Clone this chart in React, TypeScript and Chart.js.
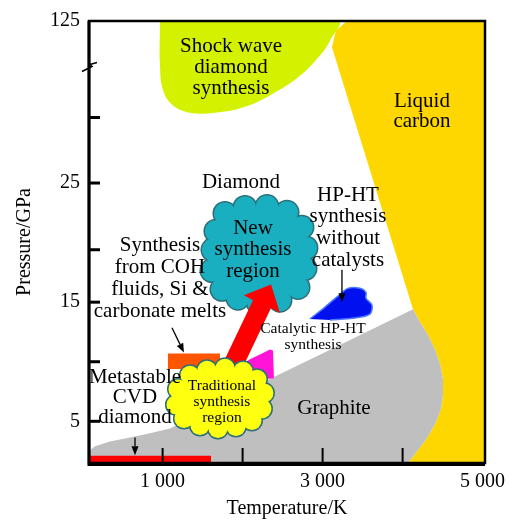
import { useEffect, useRef } from "react";
import { Chart, registerables } from "chart.js";

Chart.register(...registerables);

type P = [number, number];

// Axes: Temperature/K (x) and Pressure/GPa (y, broken near the top)
const xRange: P = [80, 5030];
const yRange: P = [1.5, 38.6];
const xTickValues = [1000, 2000, 3000, 4000, 5000];
const xTickLabels = ["1 000", "", "3 000", "", "5 000"];
const yTickValues = [5, 10, 15, 19.4, 25, 30.5, 38.6];
const yTickLabels = ["5", "", "15", "", "25", "", "125"];
const yAxisBreak = 34.7;

// Regions (T in K, P in GPa)
const shockWaveRegion: P[] = [
  [967, 38.6], [3192, 38.6], [3092, 36.95], [2967, 35.7], [2717, 34.0], [2405, 32.6],
  [2030, 31.4], [1655, 30.9], [1342, 30.9], [1117, 31.6], [1005, 32.8], [967, 34.9], [967, 38.6],
];
const graphiteDiamondBoundary: P[] = [
  [80, 1.5], [80, 2.5], [155, 2.9], [342, 3.3], [592, 3.65], [842, 4.0], [1092, 4.4],
  [2030, 7.55], [3030, 10.8],
];
const graphiteLiquidBoundary: P[] = [
  [4130, 14.4], [4217, 13.34], [4317, 12.27], [4405, 11.02], [4467, 9.86], [4505, 8.54],
  [4505, 7.3], [4480, 6.06], [4417, 4.9], [4305, 3.57], [4192, 2.58], [4067, 1.5],
];
const liquidDiamondBoundary: P[] = [[3117, 36.4], [3167, 37.8], [3305, 38.6]];
const liquidOuter: P[] = [[5030, 38.6], [5030, 1.5]];
const cvdRegion: P[] = [[80, 1.5], [1605, 1.5], [1605, 2.1], [80, 2.1]];
const cohMeltRegion: P[] = [[1067, 9.4], [1717, 9.4], [1717, 10.7], [1067, 10.7]];
const catalyticRegion: P[] = [
  [1967, 9.62], [2092, 10.2], [2242, 10.69], [2342, 11.02], [2380, 10.94], [2392, 8.62], [1967, 8.37],
];
const noCatalystRegion: P[] = [
  [2842, 13.59], [3030, 14.59], [3217, 15.66], [3317, 16.16], [3467, 16.16], [3542, 15.83],
  [3542, 15.33], [3617, 14.75], [3592, 14.0], [3405, 13.67], [3092, 13.51],
];
const newSynthesisCloud: P[] = [
  [1780, 22.45], [2030, 22.95], [2305, 23.03], [2555, 22.54], [2742, 21.29], [2792, 19.55],
  [2780, 17.82], [2692, 16.24], [2467, 15.17], [2192, 15.0], [1942, 15.33], [1742, 16.08],
  [1617, 17.65], [1630, 19.39], [1667, 20.96],
];
const traditionalCloud: P[] = [
  [1342, 8.87], [1555, 9.29], [1780, 9.45], [2005, 9.2], [2180, 8.54], [2267, 7.38],
  [2242, 6.06], [2117, 5.06], [1917, 4.56], [1692, 4.4], [1467, 4.65], [1267, 5.23],
  [1167, 6.39], [1192, 7.71],
];
const synthesisArrow: P[] = [
  [1730, 9.53], [2130, 15.17], [2017, 15.58], [2355, 16.49], [2467, 14.09], [2355, 14.5], [1955, 8.87],
];
const pointerArrows: P[][] = [
  [[655, 3.65], [655, 2.16]],
  [[1117, 12.85], [1267, 10.78]],
  [[3242, 17.73], [3242, 15.0]],
];

const FONT = "'Liberation Serif', 'Times New Roman', serif";

const textLabels = [
  { lines: ["Shock wave", "diamond", "synthesis"], at: [1855, 34.71], size: 21, lh: 21 },
  { lines: ["Liquid", "carbon"], at: [4242, 30.98], size: 21, lh: 20 },
  { lines: ["Diamond"], at: [1980, 25.02], size: 21, lh: 21 },
  { lines: ["HP-HT", "synthesis", "without", "catalysts"], at: [3317, 21.25], size: 21, lh: 21.7 },
  { lines: ["New", "synthesis", "region"], at: [2130, 19.39], size: 21, lh: 21.5 },
  { lines: ["Synthesis", "from COH", "fluids, Si &", "carbonate melts"], at: [967, 16.95], size: 21, lh: 22 },
  { lines: ["Catalytic HP-HT", "synthesis"], at: [2880, 12.1], size: 15.5, lh: 16 },
  { lines: ["Metastable", "CVD", "diamond"], at: [655, 6.97], size: 21, lh: 20 },
  { lines: ["Traditional", "synthesis", "region"], at: [1742, 6.63], size: 15.5, lh: 16 },
  { lines: ["Graphite"], at: [3142, 6.06], size: 21, lh: 21 },
];

const toXY = (pts: P[]) => pts.map(([x, y]) => ({ x, y }));

const polygon = (pts: P[], color: string, tension = 0, border = "rgba(0,0,0,0)", bw = 0) => ({
  type: "line" as const,
  data: toXY(pts),
  fill: "shape",
  backgroundColor: color,
  borderColor: border,
  borderWidth: bw,
  pointRadius: 0,
  pointHoverRadius: 0,
  tension,
});

const bumps = (pts: P[], color: string, r: number) => ({
  type: "line" as const,
  data: toXY(pts),
  showLine: false,
  fill: false,
  pointRadius: r,
  pointHoverRadius: r,
  pointBackgroundColor: color,
  pointBorderColor: color,
  pointBorderWidth: 0,
});

const CLOUD_EDGE = "#2b6f78";

const layers: any[] = [
  polygon(shockWaveRegion, "#d4f200", 0.4),
  polygon([...liquidOuter, ...[...graphiteLiquidBoundary].reverse(), ...liquidDiamondBoundary], "#ffd700"),
  polygon([...graphiteDiamondBoundary, ...graphiteLiquidBoundary], "#bfbfbf"),
  polygon(cvdRegion, "#ff0000"),
  polygon(cohMeltRegion, "#ff5500"),
  polygon(noCatalystRegion, "#0010ee", 0.3, "#4a78ff", 1.5),
  polygon(catalyticRegion, "#ff14d8"),
  bumps(newSynthesisCloud, CLOUD_EDGE, 12.5),
  polygon(newSynthesisCloud, "#19afc0"),
  bumps(newSynthesisCloud, "#19afc0", 11),
  polygon(synthesisArrow, "#ff0000"),
  bumps(traditionalCloud, CLOUD_EDGE, 11),
  polygon(traditionalCloud, "#ffff10"),
  bumps(traditionalCloud, "#ffff10", 9.5),
];
layers.forEach((d, i) => (d.order = 100 - i));

const overlay = {
  id: "overlay",
  afterDatasetsDraw(chart: any) {
    const { ctx, scales } = chart;
    const sx = scales.x, sy = scales.y;
    ctx.save();
    ctx.strokeStyle = "#000";
    ctx.fillStyle = "#000";
    ctx.lineWidth = 1.3;
    for (const [a, b] of pointerArrows) {
      const x1 = sx.getPixelForValue(a[0]), y1 = sy.getPixelForValue(a[1]);
      const x2 = sx.getPixelForValue(b[0]), y2 = sy.getPixelForValue(b[1]);
      const ang = Math.atan2(y2 - y1, x2 - x1);
      const hl = 9, hw = 3.5;
      const bx = x2 - hl * Math.cos(ang), by = y2 - hl * Math.sin(ang);
      ctx.beginPath();
      ctx.moveTo(x1, y1);
      ctx.lineTo(bx, by);
      ctx.stroke();
      ctx.beginPath();
      ctx.moveTo(x2, y2);
      ctx.lineTo(bx + hw * Math.sin(ang), by - hw * Math.cos(ang));
      ctx.lineTo(bx - hw * Math.sin(ang), by + hw * Math.cos(ang));
      ctx.closePath();
      ctx.fill();
    }
    ctx.textAlign = "center";
    ctx.textBaseline = "middle";
    for (const t of textLabels) {
      ctx.font = `${t.size}px ${FONT}`;
      const cx = sx.getPixelForValue(t.at[0]);
      const cy = sy.getPixelForValue(t.at[1]);
      const y0 = cy - ((t.lines.length - 1) * t.lh) / 2;
      t.lines.forEach((line, i) => ctx.fillText(line, cx, y0 + i * t.lh));
    }
    ctx.restore();
  },
  afterDraw(chart: any) {
    const { ctx, chartArea: a, scales } = chart;
    const sx = scales.x, sy = scales.y;
    ctx.save();
    ctx.strokeStyle = "#000";
    ctx.lineCap = "butt";
    // frame
    ctx.lineWidth = 2.5;
    ctx.strokeRect(a.left, a.top, a.right - a.left, a.bottom - a.top);
    ctx.lineWidth = 3;
    ctx.beginPath();
    ctx.moveTo(a.left, a.top);
    ctx.lineTo(a.left, a.bottom + 1.5);
    ctx.lineTo(a.right, a.bottom + 1.5);
    ctx.stroke();
    // inward ticks
    ctx.lineWidth = 3;
    yTickValues.slice(0, -1).forEach((v) => {
      const py = sy.getPixelForValue(v);
      ctx.beginPath();
      ctx.moveTo(a.left, py);
      ctx.lineTo(a.left + 11, py);
      ctx.stroke();
    });
    ctx.lineWidth = 2;
    xTickValues.slice(0, -1).forEach((v) => {
      const px = sx.getPixelForValue(v);
      ctx.beginPath();
      ctx.moveTo(px, a.bottom);
      ctx.lineTo(px, a.bottom - 15);
      ctx.stroke();
    });
    // axis break mark
    const by = sy.getPixelForValue(yAxisBreak);
    ctx.lineWidth = 1.5;
    ctx.beginPath();
    ctx.moveTo(a.left - 7, by + 4);
    ctx.lineTo(a.left + 3, by - 1);
    ctx.lineTo(a.left + 1, by - 3);
    ctx.lineTo(a.left + 8, by - 5);
    ctx.stroke();
    ctx.restore();
  },
};

export default function App() {
  const ref = useRef<HTMLCanvasElement>(null);
  useEffect(() => {
    document.body.style.margin = "0";
    const chart = new Chart(ref.current!, {
      type: "line",
      data: { datasets: layers },
      options: {
        responsive: false,
        animation: false,
        events: [],
        layout: { padding: { left: 0, top: 15, right: 29, bottom: 0 } },
        plugins: { legend: { display: false }, tooltip: { enabled: false } },
        scales: {
          x: {
            type: "linear",
            min: xRange[0],
            max: xRange[1],
            grid: { display: false, drawTicks: false },
            border: { display: false },
            afterBuildTicks: (s: any) => {
              s.ticks = xTickValues.map((value) => ({ value }));
            },
            afterFit: (s: any) => {
              s.height = 58;
            },
            ticks: {
              autoSkip: false,
              maxRotation: 0,
              padding: 7,
              color: "#000",
              font: { family: FONT, size: 20 },
              callback: (v: any) => xTickLabels[xTickValues.indexOf(Number(v))] ?? "",
            },
            title: {
              display: true,
              text: "Temperature/K",
              color: "#000",
              font: { family: FONT, size: 20 },
              padding: { top: 0, bottom: 0 },
            },
          },
          y: {
            type: "linear",
            min: yRange[0],
            max: yRange[1],
            grid: { display: false, drawTicks: false },
            border: { display: false },
            afterBuildTicks: (s: any) => {
              s.ticks = yTickValues.map((value) => ({ value }));
            },
            afterFit: (s: any) => {
              s.width = 89;
            },
            ticks: {
              autoSkip: false,
              padding: 9,
              color: "#000",
              font: { family: FONT, size: 20 },
              callback: (v: any) => yTickLabels[yTickValues.indexOf(Number(v))] ?? "",
            },
            title: {
              display: true,
              text: "Pressure/GPa",
              color: "#000",
              font: { family: FONT, size: 20 },
              padding: { top: 13, bottom: 0 },
            },
          },
        },
      } as any,
      plugins: [overlay],
    });
    return () => chart.destroy();
  }, []);
  return (
    <div style={{ width: 514, height: 521 }}>
      <canvas ref={ref} width={514} height={521} style={{ display: "block" }} />
    </div>
  );
}
